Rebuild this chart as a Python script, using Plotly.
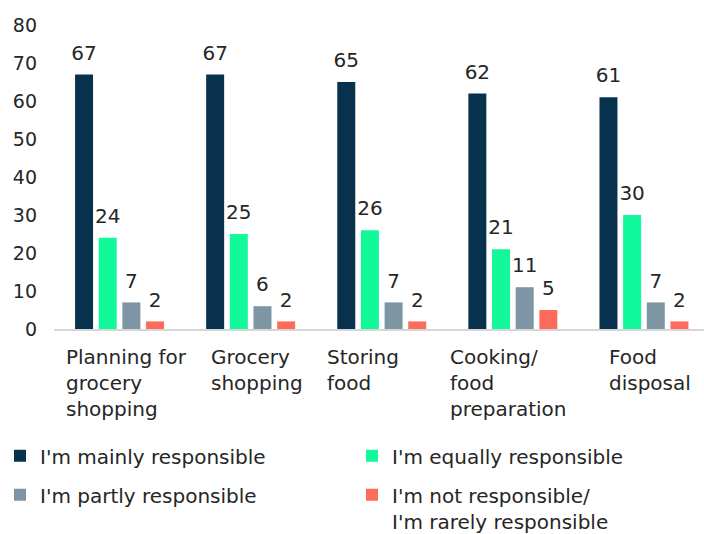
import plotly.graph_objects as go

categories = ["Planning for<br>grocery<br>shopping", "Grocery<br>shopping", "Storing<br>food",
              "Cooking/<br>food<br>preparation", "Food<br>disposal"]
series_names = ["I'm mainly responsible", "I'm equally responsible", "I'm partly responsible",
                "I'm not responsible/<br>I'm rarely responsible"]
mainly = [67, 67, 65, 62, 61]
equally = [24, 25, 26, 21, 30]
partly = [7, 6, 7, 11, 7]
not_resp = [2, 2, 2, 5, 2]
y_ticks = [0, 10, 20, 30, 40, 50, 60, 70, 80]

colors = ["#08314d", "#12f99b", "#7e95a3", "#fd6b5a"]
values = [mainly, equally, partly, not_resp]
legend_ids = ["legend", "legend2", "legend", "legend2"]

FONT = "DejaVu Sans"
TXT = "#262626"
x_idx = list(range(len(categories)))

fig = go.Figure()
for i, (name, vals, col) in enumerate(zip(series_names, values, colors)):
    fig.add_trace(go.Bar(
        x=x_idx, y=vals, name=name, marker=dict(color=col, line=dict(width=0)),
        offsetgroup=str(i), legend=legend_ids[i], legendgroup=f"g{i}",
        hoverinfo="skip",
    ))
for i, vals in enumerate(values):
    fig.add_trace(go.Scatter(
        x=x_idx, y=vals, mode="markers+text", text=[str(v) for v in vals],
        textposition="top center", offsetgroup=str(i), showlegend=False,
        marker=dict(size=14, opacity=0), textfont=dict(family=FONT, size=20, color=TXT),
        cliponaxis=False, hoverinfo="skip",
    ))

label_shift = [-56, -42, -57, -65, -37]
for k, (cat, sh) in enumerate(zip(categories, label_shift)):
    fig.add_annotation(x=k, y=0, xref="x", yref="paper", text=cat, showarrow=False,
                       xanchor="left", yanchor="top", align="left", xshift=sh, yshift=-14,
                       font=dict(family=FONT, size=20, color=TXT))

legend_style = dict(xref="container", yref="container", xanchor="left", yanchor="top",
                    orientation="v", tracegroupgap=10, valign="top",
                    font=dict(family=FONT, size=20, color=TXT), bgcolor="rgba(0,0,0,0)")

fig.update_layout(
    width=704, height=534,
    margin=dict(l=54, r=0, t=25, b=205, autoexpand=False),
    plot_bgcolor="white", paper_bgcolor="white",
    barmode="group", bargap=0.278, bargroupgap=0.24,
    scattermode="group", scattergap=0.278,
    font=dict(family=FONT, size=20, color=TXT),
    xaxis=dict(range=[-0.5, 4.458], showticklabels=False, showgrid=False, zeroline=False,
               showline=True, linecolor="#d6d6d6", linewidth=2, ticks=""),
    yaxis=dict(range=[0, 80], tickvals=y_ticks, showgrid=False, zeroline=False,
               showline=False, ticks="", ticklabelstandoff=16,
               tickfont=dict(family=FONT, size=19, color=TXT)),
    legend=dict(x=0.0, y=0.183, **legend_style),
    legend2=dict(x=0.500, y=0.183, **legend_style),
)

fig.write_html("out.html")
